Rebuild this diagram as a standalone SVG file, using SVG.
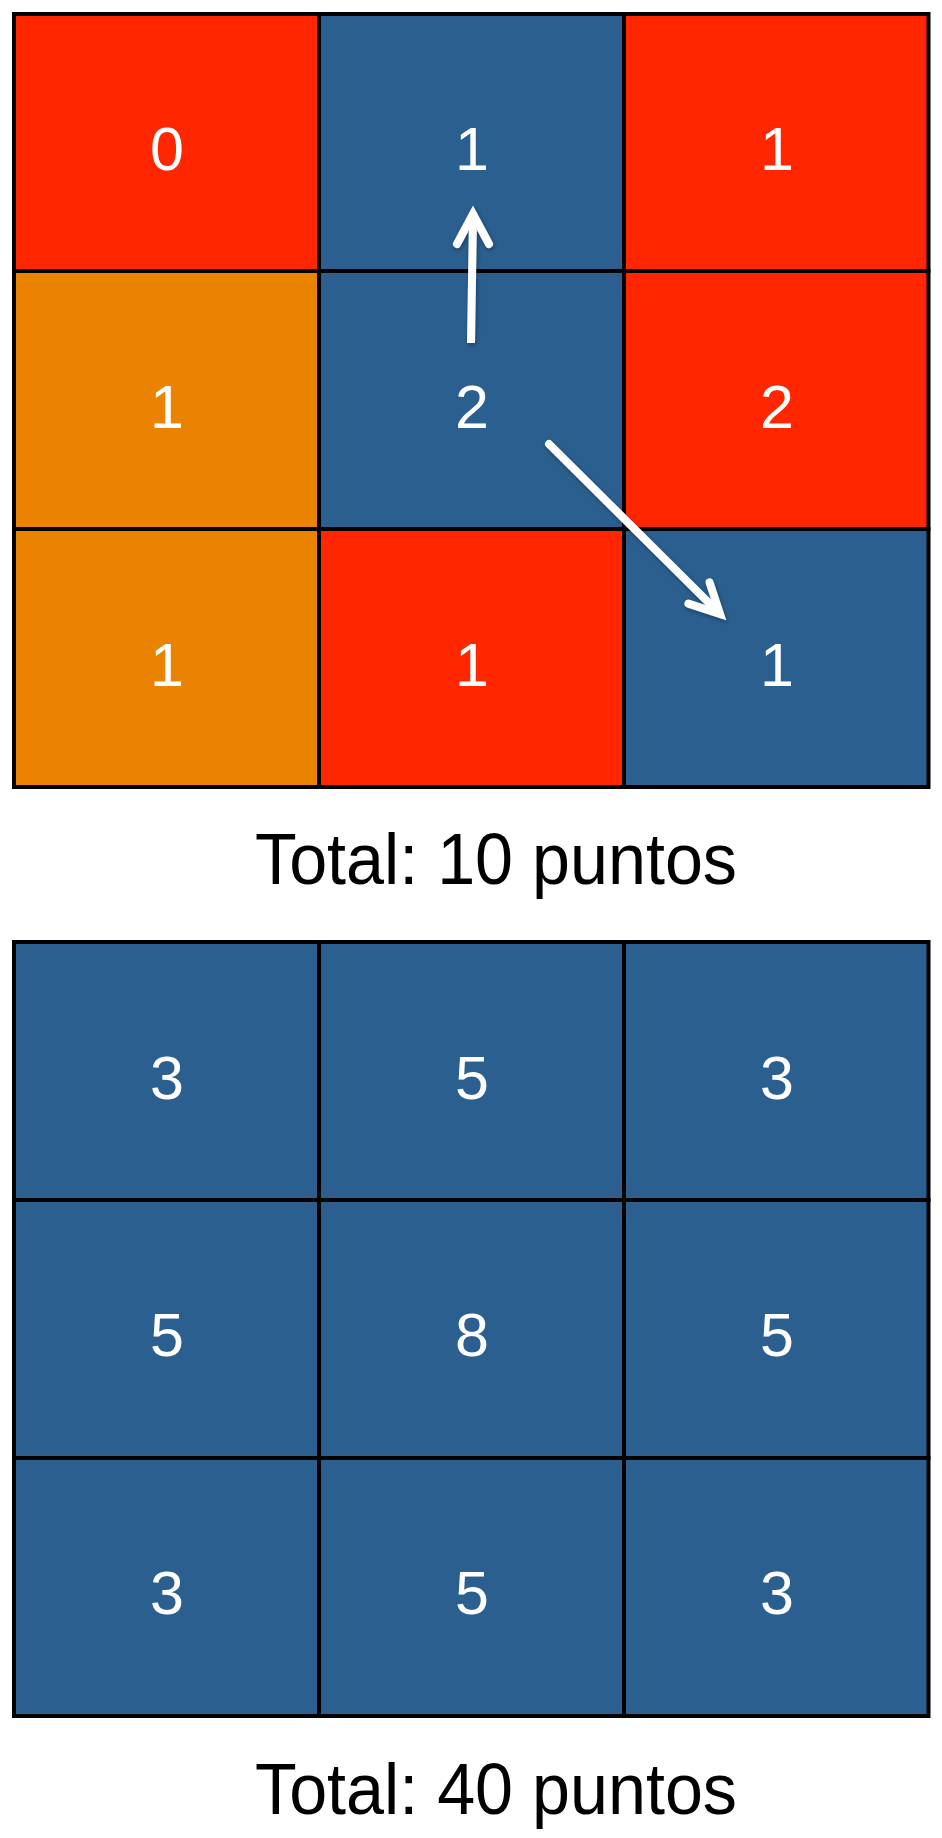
<svg xmlns="http://www.w3.org/2000/svg" width="942" height="1838" viewBox="0 0 942 1838">
  <style>
    .cell { stroke: #000; stroke-width: 4; }
    .red { fill: #FF2600; }
    .orange { fill: #E98300; }
    .blue { fill: #2A5F8F; }
    .num { fill: #fff; font-family: "Liberation Sans", Arial, sans-serif; font-size: 61px; text-anchor: middle; }
    .total { fill: #000; font-family: "Liberation Sans", Arial, sans-serif; font-size: 72px; }
    .arrow { fill: none; stroke: #fff; stroke-width: 8; }
  </style>
  <defs>
    <filter id="shadow" x="-20%" y="-20%" width="140%" height="140%">
      <feDropShadow dx="1" dy="2" stdDeviation="2" flood-color="#000" flood-opacity="0.35"/>
    </filter>
  </defs>
  <rect width="942" height="1838" fill="#fff"/>

  <!-- Top grid -->
  <g id="t00"><rect class="cell red" x="14" y="14" width="305" height="257"/><text class="num" x="167" y="170">0</text></g>
  <g id="t01"><rect class="cell blue" x="319" y="14" width="305" height="257"/><text class="num" x="472" y="170">1</text></g>
  <g id="t02"><rect class="cell red" x="624" y="14" width="304.5" height="257"/><text class="num" x="777" y="170">1</text></g>
  <g id="t10"><rect class="cell orange" x="14" y="271" width="305" height="258"/><text class="num" x="167" y="428">1</text></g>
  <g id="t11"><rect class="cell blue" x="319" y="271" width="305" height="258"/><text class="num" x="472" y="428">2</text></g>
  <g id="t12"><rect class="cell red" x="624" y="271" width="304.5" height="258"/><text class="num" x="777" y="428">2</text></g>
  <g id="t20"><rect class="cell orange" x="14" y="529" width="305" height="258"/><text class="num" x="167" y="686">1</text></g>
  <g id="t21"><rect class="cell red" x="319" y="529" width="305" height="258"/><text class="num" x="472" y="686">1</text></g>
  <g id="t22"><rect class="cell blue" x="624" y="529" width="304.5" height="258"/><text class="num" x="777" y="686">1</text></g>

  <g id="connectors" filter="url(#shadow)">
    <path class="arrow" d="M471 343 L473 218" stroke-linecap="butt"/>
    <polyline class="arrow" points="457,244 473,214 489,244" stroke-linecap="round" stroke-linejoin="miter"/>
    <path class="arrow" d="M549 444 L718 612" stroke-linecap="round"/>
    <polyline class="arrow" points="709.6,582.4 720,614 688.4,603.6" stroke-linecap="round" stroke-linejoin="miter"/>
  </g>

  <g id="label1"><text class="total" x="255" y="884" textLength="482" lengthAdjust="spacingAndGlyphs">Total: 10 puntos</text></g>

  <!-- Bottom grid -->
  <g id="b00"><rect class="cell blue" x="14" y="942" width="305" height="258"/><text class="num" x="167" y="1099">3</text></g>
  <g id="b01"><rect class="cell blue" x="319" y="942" width="305" height="258"/><text class="num" x="472" y="1099">5</text></g>
  <g id="b02"><rect class="cell blue" x="624" y="942" width="304.5" height="258"/><text class="num" x="777" y="1099">3</text></g>
  <g id="b10"><rect class="cell blue" x="14" y="1200" width="305" height="258"/><text class="num" x="167" y="1356">5</text></g>
  <g id="b11"><rect class="cell blue" x="319" y="1200" width="305" height="258"/><text class="num" x="472" y="1356">8</text></g>
  <g id="b12"><rect class="cell blue" x="624" y="1200" width="304.5" height="258"/><text class="num" x="777" y="1356">5</text></g>
  <g id="b20"><rect class="cell blue" x="14" y="1458" width="305" height="258"/><text class="num" x="167" y="1614">3</text></g>
  <g id="b21"><rect class="cell blue" x="319" y="1458" width="305" height="258"/><text class="num" x="472" y="1614">5</text></g>
  <g id="b22"><rect class="cell blue" x="624" y="1458" width="304.5" height="258"/><text class="num" x="777" y="1614">3</text></g>

  <g id="label2"><text class="total" x="255" y="1814" textLength="482" lengthAdjust="spacingAndGlyphs">Total: 40 puntos</text></g>
</svg>
